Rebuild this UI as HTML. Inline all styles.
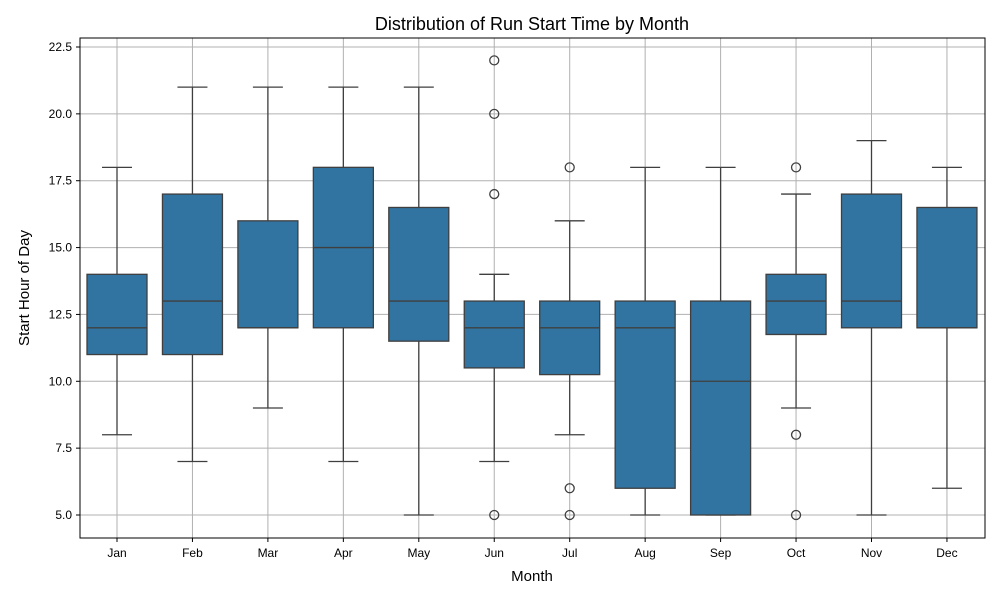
<!DOCTYPE html>
<html><head><meta charset="utf-8"><style>body{margin:0;background:#fff}svg{display:block;font-family:"Liberation Sans","DejaVu Sans",sans-serif}</style></head>
<body>
<svg id="c" width="1000" height="600"></svg>
<script>
const months=["Jan","Feb","Mar","Apr","May","Jun","Jul","Aug","Sep","Oct","Nov","Dec"];
const whisLo=[8,7,9,7,5,7,8,5,5,9,5,6];
const q1=[11,11,12,12,11.5,10.5,10.25,6,5,11.75,12,12];
const med=[12,13,12,15,13,12,12,12,10,13,13,12];
const q3=[14,17,16,18,16.5,13,13,13,13,14,17,16.5];
const whisHi=[18,21,21,21,21,14,16,18,18,17,19,18];
const outliers=[[],[],[],[],[],[5,17,20,22],[5,6,18],[],[],[5,8,18],[],[]];
const yTicks=[5,7.5,10,12.5,15,17.5,20,22.5];
const L=80,R=985,T=38,B=538;
const y=v=>515-(v-5)*(468/17.5);
const x=i=>117+i*75.45;
const s=document.getElementById('c');const NS="http://www.w3.org/2000/svg";
function el(t,a,p){const e=document.createElementNS(NS,t);for(const k in a)e.setAttribute(k,a[k]);(p||s).appendChild(e);return e;}
function txt(t,a,str){const e=el(t,a);e.textContent=str;return e;}
el('rect',{x:L,y:T,width:R-L,height:B-T,fill:'#fff'});
yTicks.forEach(v=>{const g=el('line',{x1:L,x2:R,y1:y(v),y2:y(v),stroke:'#b0b0b0','stroke-width':1});

el('line',{x1:L-4,x2:L,y1:y(v),y2:y(v),stroke:'#000'});
const t=txt('text',{x:L-8,y:y(v)+4,'text-anchor':'end','font-size':12},v.toFixed(1));
});
months.forEach((m,i)=>{const g=el('line',{x1:x(i),x2:x(i),y1:T,y2:B,stroke:'#b0b0b0','stroke-width':1});

el('line',{x1:x(i),x2:x(i),y1:B,y2:B+4,stroke:'#000'});
const t=txt('text',{x:x(i),y:B+19,'text-anchor':'middle','font-size':12},m);
});
months.forEach((m,i)=>{const c=x(i),w=30,st={stroke:'#3f3f3f','stroke-width':1.3,fill:'none'};
const g=el('g',{});
el('line',{x1:c,x2:c,y1:y(whisLo[i]),y2:y(q1[i]),...st},g);
el('line',{x1:c,x2:c,y1:y(q3[i]),y2:y(whisHi[i]),...st},g);
el('line',{x1:c-15,x2:c+15,y1:y(whisLo[i]),y2:y(whisLo[i]),...st},g);
el('line',{x1:c-15,x2:c+15,y1:y(whisHi[i]),y2:y(whisHi[i]),...st},g);
el('rect',{x:c-w,y:y(q3[i]),width:2*w,height:y(q1[i])-y(q3[i]),fill:'#3274a1',stroke:'#3f3f3f','stroke-width':1.3},g);
el('line',{x1:c-w,x2:c+w,y1:y(med[i]),y2:y(med[i]),...st},g);
outliers[i].forEach(o=>el('circle',{cx:c,cy:y(o),r:4.5,...st},g));});
el('rect',{x:L,y:T,width:R-L,height:B-T,fill:'none',stroke:'#000','stroke-width':1});
let t=txt('text',{x:532,y:30,'text-anchor':'middle','font-size':18},'Distribution of Run Start Time by Month');
t=txt('text',{x:532,y:581,'text-anchor':'middle','font-size':15},'Month');
t=txt('text',{x:29,y:288,'text-anchor':'middle','font-size':15,transform:'rotate(-90 29 288)'},'Start Hour of Day');
</script>
</body></html>
